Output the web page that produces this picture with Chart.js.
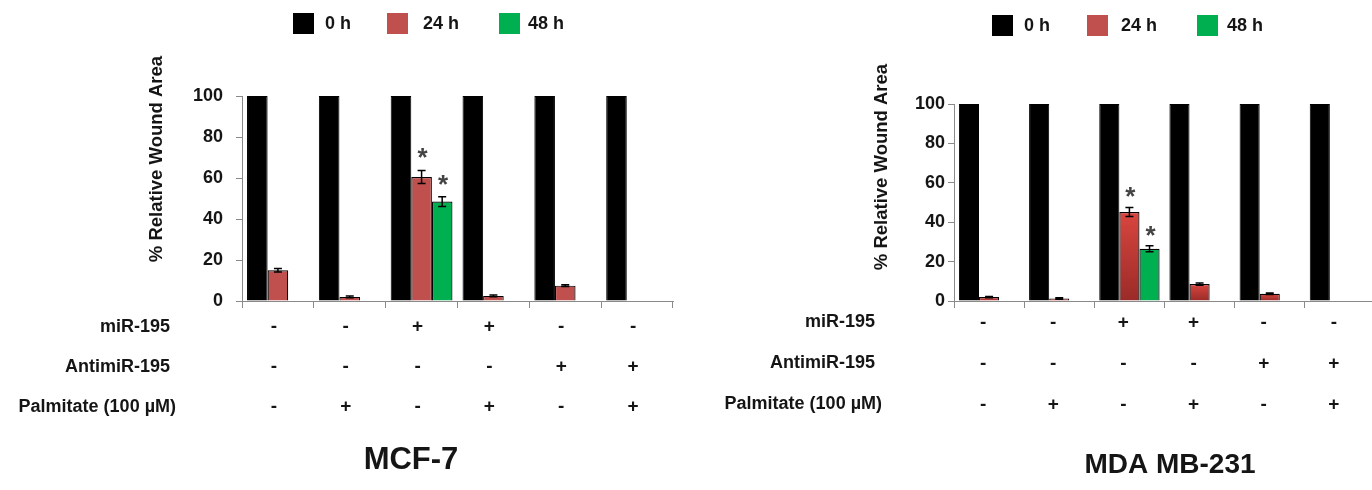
<!DOCTYPE html>
<html><head><meta charset="utf-8">
<script src="https://cdn.jsdelivr.net/npm/chart.js@4.4.1/dist/chart.umd.min.js"></script>
<style>
html,body{margin:0;padding:0;background:#fff;overflow:hidden;width:1372px;height:490px;}
.wrap{position:absolute;top:0;height:490px;width:690px;}
#w1{left:0;}
#w2{left:690px;}
</style></head><body>
<div class="wrap" id="w1"><canvas id="c1" width="690" height="490"></canvas></div>
<div class="wrap" id="w2"><canvas id="c2" width="690" height="490"></canvas></div>
<script>
// ---------- data ----------
const seriesLabels = ['0 h', '24 h', '48 h'];
const rowLabels = ['miR-195', 'AntimiR-195', 'Palmitate (100 µM)'];
const miR195     = ['-', '-', '+', '+', '-', '-'];
const antimiR195 = ['-', '-', '-', '-', '+', '+'];
const palmitate  = ['-', '+', '-', '+', '-', '+'];
const yTickMin = 0, yTickMax = 100, yTickStep = 20;

const mcf7_0h      = [100, 100, 100, 100, 100, 100];
const mcf7_24h     = [15, 2, 60.5, 2.5, 7.5, null];
const mcf7_24h_err = [0.8, 0.4, 3.2, 0.4, 0.4, null];
const mcf7_24h_sig = [false, false, true, false, false, false];
const mcf7_48h     = [null, null, 48.5, null, null, null];
const mcf7_48h_err = [null, null, 2.4, null, null, null];
const mcf7_48h_sig = [false, false, true, false, false, false];

const mda_0h      = [100, 100, 100, 100, 100, 100];
const mda_24h     = [2, 1.3, 45.2, 8.6, 3.7, null];
const mda_24h_err = [0.3, 0.4, 2.3, 0.6, 0.4, null];
const mda_24h_sig = [false, false, true, false, false, false];
const mda_48h     = [null, null, 26.5, null, null, null];
const mda_48h_err = [null, null, 1.5, null, null, null];
const mda_48h_sig = [false, false, true, false, false, false];

const titleLeft = 'MCF-7';
const titleRight = 'MDA MB-231';
const yTitle = '% Relative Wound Area';

// ---------- helpers ----------
const FONT = '"Liberation Sans", Arial, sans-serif';
Chart.defaults.font.family = FONT;
const categoryLabels = miR195.map((m, i) => [m, antimiR195[i], palmitate[i]]);
const AXIS = '#8a8a8a';
const TEXT = '#151515';
const RED = '#C0504D', GREEN = '#00B050', BLACK = '#000000';

function redGradient(ctx) {
  const chart = ctx.chart;
  const area = chart.chartArea;
  if (!area || ctx.parsed == null || ctx.parsed.y == null) return '#c8423c';
  const yTop = chart.scales.y.getPixelForValue(ctx.parsed.y);
  const g = chart.ctx.createLinearGradient(0, area.bottom, 0, Math.min(yTop, area.bottom - 1));
  g.addColorStop(0, '#9a2b28');
  g.addColorStop(1, '#d9463f');
  return g;
}

const decor = {
  id: 'decor',
  afterDatasetsDraw(chart, args, o) {
    const c = chart.ctx, ys = chart.scales.y;
    chart.data.datasets.forEach((ds, d) => {
      if (!ds.err) return;
      const meta = chart.getDatasetMeta(d);
      ds.data.forEach((v, i) => {
        if (v == null) return;
        const bar = meta.data[i];
        const e = ds.err[i] || 0;
        const yT = ys.getPixelForValue(v + e), yB = ys.getPixelForValue(v - e);
        c.save();
        c.strokeStyle = '#000'; c.lineWidth = 1.5;
        c.beginPath();
        c.moveTo(bar.x, yT); c.lineTo(bar.x, yB);
        c.moveTo(bar.x - 4, yT); c.lineTo(bar.x + 4, yT);
        c.moveTo(bar.x - 4, yB); c.lineTo(bar.x + 4, yB);
        c.stroke();
        if (ds.sig && ds.sig[i]) {
          c.fillStyle = '#444';
          c.font = 'bold 26px ' + FONT;
          c.textAlign = 'center'; c.textBaseline = 'alphabetic';
          c.fillText('*', bar.x + 1, yT - o.starGap + 14);
        }
        c.restore();
      });
    });
  },
  afterDraw(chart, args, o) {
    const c = chart.ctx;
    c.save();
    // legend
    c.font = 'bold 18px ' + FONT;
    c.textBaseline = 'middle'; c.textAlign = 'left';
    chart.data.datasets.forEach((ds, d) => {
      const L = o.legend[d];
      c.fillStyle = ds.legendColor;
      c.fillRect(L[0], o.legendY, 21, 21);
      c.fillStyle = TEXT;
      c.fillText(ds.label, L[1], o.legendY + 11);
    });
    // y title
    c.save();
    c.translate(o.yTitleX, o.yTitleY);
    c.rotate(-Math.PI / 2);
    c.font = 'bold 18.5px ' + FONT;
    c.textAlign = 'center'; c.textBaseline = 'middle';
    c.fillStyle = TEXT;
    c.fillText(yTitle, 0, 0);
    c.restore();
    // row labels aligned to the x-axis label rows
    const xs = chart.scales.x;
    const lh = o.lineHeight;
    const y0 = xs.top + xs.options.grid.tickLength + xs.options.ticks.padding;
    c.font = 'bold 18px ' + FONT;
    c.textAlign = 'right'; c.textBaseline = 'middle';
    c.fillStyle = TEXT;
    rowLabels.forEach((t, r) => c.fillText(t, o.rowRight[r], y0 + lh * (r + 0.5)));
    // chart title
    c.font = 'bold ' + o.titleSize + 'px ' + FONT;
    c.textAlign = 'center'; c.textBaseline = 'middle';
    c.fillText(o.title, o.titleX, o.titleY);
    c.restore();
  }
};

function makeChart(id, d0, d24, e24, s24, d48, e48, s48, red24, cfg) {
  return new Chart(document.getElementById(id), {
    type: 'bar',
    data: {
      labels: categoryLabels,
      datasets: [
        { label: seriesLabels[0], data: d0, backgroundColor: BLACK, borderColor: BLACK, borderWidth: 1, legendColor: BLACK },
        { label: seriesLabels[1], data: d24, err: e24, sig: s24, backgroundColor: red24, borderColor: '#000', borderWidth: 1.2, legendColor: RED },
        { label: seriesLabels[2], data: d48, err: e48, sig: s48, backgroundColor: GREEN, borderColor: '#000', borderWidth: 1.2, legendColor: GREEN }
      ]
    },
    plugins: [decor],
    options: {
      responsive: false,
      animation: false,
      layout: { padding: { left: 0, right: cfg.padRight, top: cfg.top, bottom: 0 } },
      datasets: { bar: { categoryPercentage: 0.86, barPercentage: 1, grouped: true } },
      plugins: {
        legend: { display: false },
        tooltip: { enabled: false },
        title: { display: false },
        decor: cfg.decor
      },
      scales: {
        x: {
          offset: true,
          grid: { display: true, drawOnChartArea: false, drawTicks: true, tickLength: 7, color: AXIS, offset: true },
          border: { display: true, color: AXIS, width: 1 },
          ticks: {
            autoSkip: false, maxRotation: 0, minRotation: 0,
            padding: cfg.xPad, labelOffset: cfg.labelOffset,
            color: TEXT,
            font: { size: 19, weight: 'bold', lineHeight: cfg.decor.lineHeight + 'px' }
          },
          afterFit(s) { s.height = 490 - cfg.bottom; }
        },
        y: {
          min: yTickMin, max: yTickMax,
          grid: { display: true, drawOnChartArea: false, drawTicks: true, tickLength: 6, color: AXIS },
          border: { display: true, color: AXIS, width: 1 },
          ticks: { stepSize: yTickStep, padding: cfg.yPad, color: TEXT, font: { size: 18, weight: 'bold' } },
          afterFit(s) { s.width = cfg.left; }
        }
      }
    }
  });
}

makeChart('c1', mcf7_0h, mcf7_24h, mcf7_24h_err, mcf7_24h_sig, mcf7_48h, mcf7_48h_err, mcf7_48h_sig, RED, {
  left: 242, padRight: 690 - 673, top: 96, bottom: 301, yPad: 13, xPad: -1, labelOffset: -4,
  decor: {
    legend: [[293, 325], [387, 423], [499, 528]], legendY: 13,
    yTitleX: 157, yTitleY: 159,
    rowRight: [170, 170, 176], lineHeight: 40,
    title: titleLeft, titleSize: 31, titleX: 411, titleY: 460, starGap: 18
  }
});

makeChart('c2', mda_0h, mda_24h, mda_24h_err, mda_24h_sig, mda_48h, mda_48h_err, mda_48h_sig, redGradient, {
  left: 264, padRight: 5, top: 104, bottom: 301, yPad: 3, xPad: -6, labelOffset: -6,
  decor: {
    legend: [[302, 334], [397, 431], [507, 537]], legendY: 15,
    yTitleX: 192, yTitleY: 167,
    rowRight: [185, 185, 192], lineHeight: 41,
    title: titleRight, titleSize: 28, titleX: 480, titleY: 465, starGap: 16
  }
});
</script>
</body></html>
